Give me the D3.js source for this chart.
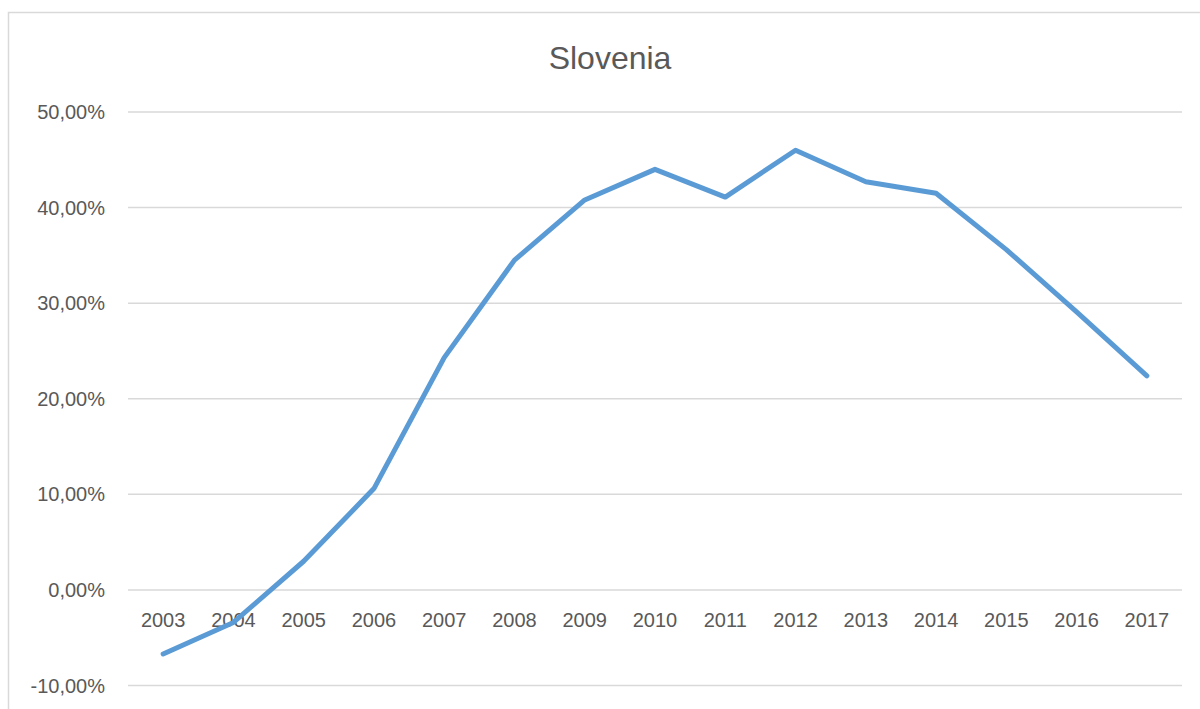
<!DOCTYPE html>
<html>
<head>
<meta charset="utf-8">
<script src="https://cdn.jsdelivr.net/npm/d3@7"></script>
<style>
  body { margin: 0; background: #fff; }
  svg { display: block; font-family: "Liberation Sans", Arial, sans-serif; }
</style>
</head>
<body>
<svg id="chart" width="1200" height="709"></svg>
<script>
const years = ["2003", "2004", "2005", "2006", "2007", "2008", "2009", "2010",
    "2011", "2012", "2013", "2014", "2015", "2016", "2017"];
const values = [-6.7, -3.4, 3.0, 10.6, 24.3, 34.5, 40.8, 44.0,
    41.1, 46.0, 42.7, 41.5, 35.6, 29.1, 22.4];
const yTicks = [-10, 0, 10, 20, 30, 40, 50];

const svg = d3.select("#chart");

// outer chart border (runs off the right and bottom edge)
svg.append("rect")
    .attr("x", 8.5)
    .attr("y", 12.5)
    .attr("width", 1220)
    .attr("height", 720)
    .attr("fill", "none")
    .attr("stroke", "#d9d9d9")
    .attr("stroke-width", 1.5);

const plotLeft = 128, plotRight = 1182, plotTop = 112, plotBottom = 685.5;

const x = d3.scaleBand()
    .domain(years)
    .range([plotLeft, plotRight]);

const y = d3.scaleLinear()
    .domain([-10, 50])
    .range([plotBottom, plotTop]);

svg.append("text")
    .attr("x", 610)
    .attr("y", 69)
    .attr("text-anchor", "middle")
    .attr("font-size", "32px")
    .attr("fill", "#595959")
    .text("Slovenia");

svg.selectAll("line.grid")
    .data(yTicks)
    .join("line")
    .attr("class", "grid")
    .attr("x1", plotLeft)
    .attr("x2", plotRight)
    .attr("y1", d => y(d))
    .attr("y2", d => y(d))
    .attr("stroke", "#d9d9d9")
    .attr("stroke-width", 1.5);

svg.selectAll("text.ytick")
    .data(yTicks)
    .join("text")
    .attr("class", "ytick")
    .attr("x", 105)
    .attr("y", d => y(d))
    .attr("dy", "0.35em")
    .attr("text-anchor", "end")
    .attr("font-size", "20px")
    .attr("fill", "#595959")
    .text(d => d3.format(".2f")(d).replace(".", ",").replace("\u2212", "-") + "%");

svg.selectAll("text.xtick")
    .data(years)
    .join("text")
    .attr("class", "xtick")
    .attr("x", d => x(d) + x.bandwidth() / 2)
    .attr("y", y(0) + 30)
    .attr("dy", "0.35em")
    .attr("text-anchor", "middle")
    .attr("font-size", "20px")
    .attr("fill", "#595959")
    .text(d => d);

const line = d3.line()
    .x((d, i) => x(years[i]) + x.bandwidth() / 2)
    .y(d => y(d));

svg.append("path")
    .datum(values)
    .attr("d", line)
    .attr("fill", "none")
    .attr("stroke", "#5b9bd5")
    .attr("stroke-width", 5)
    .attr("stroke-linejoin", "round")
    .attr("stroke-linecap", "round");
</script>
</body>
</html>
